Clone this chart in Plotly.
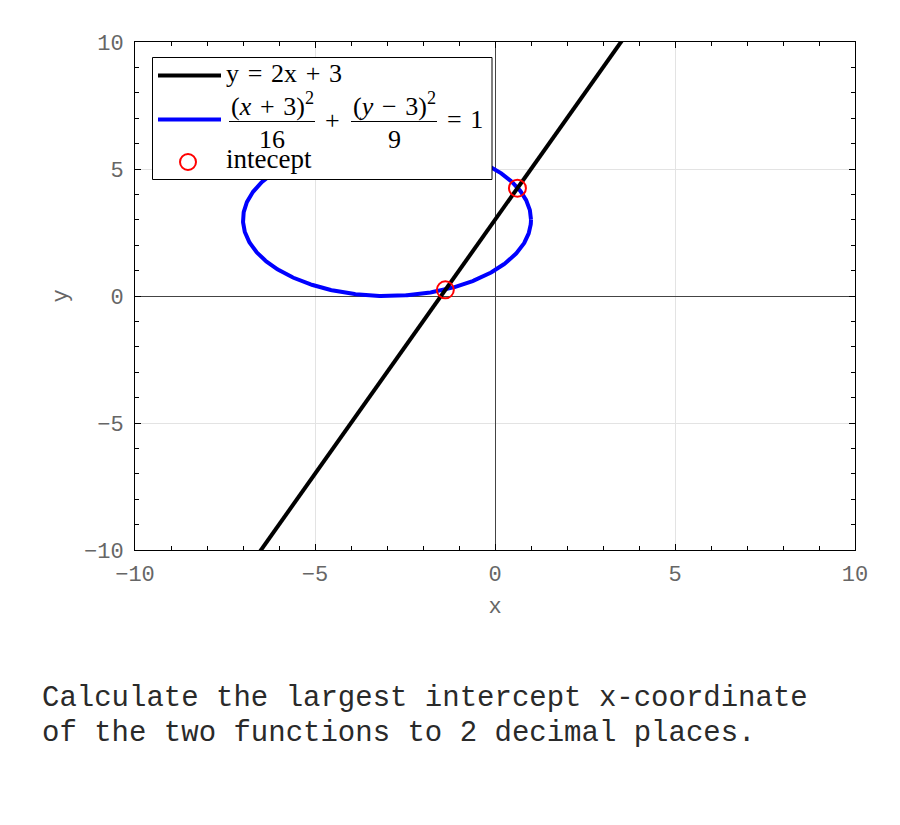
import numpy as np
import plotly.graph_objects as go

# ---- data ----
line_x = [-10, 10]
line_slope = 2
line_intercept = 3
line_y = [line_slope * v + line_intercept for v in line_x]

ellipse_center = (-3, 3)
ellipse_axes = (4, 3)  # semi-axis along x, along y
theta = np.linspace(0, 2 * np.pi, 721)
ell_x = ellipse_center[0] + ellipse_axes[0] * np.cos(theta)
ell_y = ellipse_center[1] + ellipse_axes[1] * np.sin(theta)

intercept_x = [-1.3794, 0.6232]
intercept_y = [line_slope * v + line_intercept for v in intercept_x]

tick_vals = [-10, -5, 0, 5, 10]
tick_text = ["\u221210", "\u22125", "0", "5", "10"]

# ---- layout helpers (reference pixel -> paper) ----
W, H = 900, 825
OFF = 8  # page body margin
L, R, T, B = 135, 855, 42, 550  # plot area in reference pixels
def px(X):
    return (X - L) / (R - L)
def py(Y):
    return (B - Y) / (B - T)

fig = go.Figure()
fig.add_trace(go.Scatter(x=ell_x, y=ell_y, mode="lines",
                         line=dict(color="#0000ff", width=4), showlegend=False))
fig.add_trace(go.Scatter(x=line_x, y=line_y, mode="lines",
                         line=dict(color="#000000", width=4), showlegend=False))
fig.add_trace(go.Scatter(x=intercept_x, y=intercept_y, mode="markers",
                         marker=dict(symbol="circle-open", size=17,
                                     color="#ff0000", line=dict(width=2)),
                         showlegend=False))

tickfont = dict(family="Liberation Mono, Courier New, monospace", size=22, color="#666666")
axis_common = dict(
    range=[-10, 10], tickvals=tick_vals, ticktext=tick_text,
    showgrid=True, gridcolor="#e3e3e3", gridwidth=1,
    zeroline=True, zerolinecolor="#444444", zerolinewidth=1,
    showline=True, linecolor="#000000", linewidth=1, mirror="allticks",
    ticks="inside", ticklen=6, tickcolor="#000000",
    minor=dict(dtick=1, ticks="inside", ticklen=4, tickcolor="#000000", showgrid=False),
    tickfont=tickfont,
)

fig.update_xaxes(**axis_common, ticklabelstandoff=4,
                 title=dict(text="x", font=tickfont, standoff=10))
fig.update_yaxes(**axis_common, ticklabelstandoff=6,
                 title=dict(text="y", font=tickfont, standoff=10))

shapes = []
annotations = []
# legend box
shapes.append(dict(type="rect", xref="paper", yref="paper",
                   x0=px(152.5), x1=px(492), y0=py(179.5), y1=py(57.5),
                   line=dict(color="#000000", width=1), fillcolor="#ffffff", layer="above"))
# legend line samples
shapes.append(dict(type="line", xref="paper", yref="paper",
                   x0=px(158), x1=px(221), y0=py(75.5), y1=py(75.5),
                   line=dict(color="#000000", width=4), layer="above"))
shapes.append(dict(type="line", xref="paper", yref="paper",
                   x0=px(158), x1=px(221), y0=py(119.5), y1=py(119.5),
                   line=dict(color="#0000ff", width=4), layer="above"))
# legend marker
r = 8
shapes.append(dict(type="circle", xref="paper", yref="paper",
                   x0=px(188 - r), x1=px(188 + r), y0=py(162 + r), y1=py(162 - r),
                   line=dict(color="#ff0000", width=2), layer="above"))
# fraction bars
shapes.append(dict(type="line", xref="paper", yref="paper",
                   x0=px(229), x1=px(315), y0=py(121.5), y1=py(121.5),
                   line=dict(color="#000000", width=1), layer="above"))
shapes.append(dict(type="line", xref="paper", yref="paper",
                   x0=px(351), x1=px(437), y0=py(121.5), y1=py(121.5),
                   line=dict(color="#000000", width=1), layer="above"))

serif = dict(family="Liberation Serif, Times New Roman, serif", size=26, color="#000000")
def ann(X, Y, text, xanchor="center", font=serif):
    annotations.append(dict(xref="paper", yref="paper", x=px(X), y=py(Y), text=text,
                            showarrow=False, xanchor=xanchor, yanchor="middle", font=font))

sp = "\u2004"
ann(224, 73, "y = 2x + 3".replace(" ", sp), xanchor="left")
ann(272, 104, "(<i>x</i>" + sp + "+" + sp + "3)<sup>2</sup>")
ann(272, 139, "16")
ann(332, 121, "+")
ann(394, 104, "(<i>y</i>" + sp + "\u2212" + sp + "3)<sup>2</sup>")
ann(394, 139, "9")
ann(465, 120, "=" + sp + "1")
ann(224, 159, "intecept", xanchor="left", font=dict(serif, size=27))

mono = dict(family="Liberation Mono, Courier New, monospace", size=29, color="#2a2a2a")
annotations.append(dict(xref="paper", yref="paper", x=px(40), y=py(698),
                        text="Calculate the largest intercept x-coordinate",
                        showarrow=False, xanchor="left", yanchor="middle", font=mono))
annotations.append(dict(xref="paper", yref="paper", x=px(40), y=py(733),
                        text="of the two functions to 2 decimal places.",
                        showarrow=False, xanchor="left", yanchor="middle", font=mono))

fig.update_layout(
    width=W, height=H,
    margin=dict(l=L - OFF, r=W - R + OFF, t=T - OFF, b=H - B + OFF),
    plot_bgcolor="#ffffff", paper_bgcolor="#ffffff",
    shapes=shapes, annotations=annotations, showlegend=False,
)

fig.write_html("out.html")
